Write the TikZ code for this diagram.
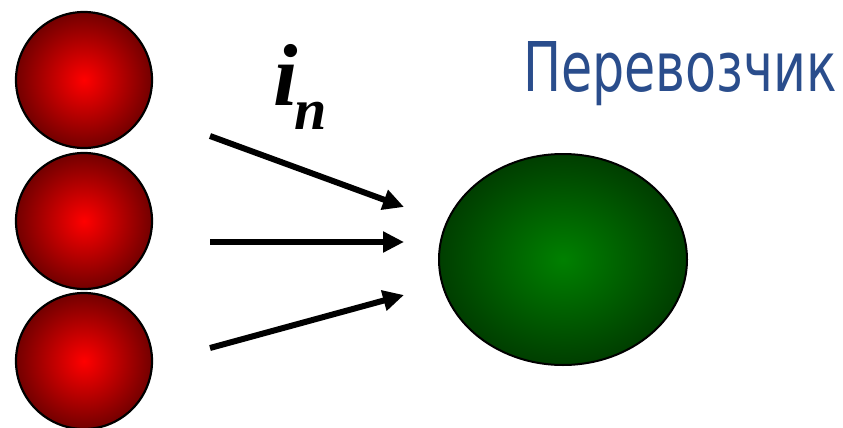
\documentclass[tikz,border=0pt]{standalone}
\usepackage{fontspec}
\setmainfont{Liberation Serif}
\newfontfamily\titlefont{DejaVu Sans}
\usetikzlibrary{shapes.geometric,arrows.meta}
\definecolor{titleblue}{RGB}{42,77,140}
\definecolor{ballred}{RGB}{255,0,0}
\definecolor{balldark}{RGB}{115,0,0}
\definecolor{eggreen}{RGB}{0,128,0}
\definecolor{egdark}{RGB}{0,62,0}
\tikzset{
  ball/.style={circle, draw=black, line width=2.2pt, minimum size=136pt, inner sep=0pt,
    inner color=ballred, outer color=balldark},
  egg/.style={ellipse, draw=black, line width=2pt, minimum width=248pt, minimum height=211pt, inner sep=0pt,
    inner color=eggreen, outer color=egdark},
  flow/.style={line width=6pt, -{Triangle[length=21pt,width=20pt]}}
}
\begin{document}
\begin{tikzpicture}[x=1pt,y=-1pt]
\useasboundingbox (0,0) rectangle (843,428);
\node[ball] (b1) at (84,80) {};
\node[ball] (b2) at (84,221) {};
\node[ball] (b3) at (84,361) {};
\node[egg] (g) at (563,259.5) {};
\coordinate (s1) at (210,136);
\coordinate (s2) at (210,242);
\coordinate (s3) at (210,348);
\coordinate (e1) at (404,207);
\coordinate (e2) at (404,242);
\coordinate (e3) at (404,295);
\draw[flow] (s1) -- (e1);
\draw[flow] (s2) -- (e2);
\draw[flow] (s3) -- (e3);
\node[anchor=base west, inner sep=0pt, text=titleblue] (title) at (523,92)
  {\resizebox{314pt}{\height}{\titlefont\fontsize{68.6}{70}\selectfont Перевозчик}};
\node[anchor=base west, inner sep=0pt] (lbl) at (273,105)
  {\bfseries\itshape\fontsize{88}{88}\selectfont i\kern-3pt\raisebox{-24pt}{\fontsize{58}{58}\selectfont n}};
\end{tikzpicture}
\end{document}
